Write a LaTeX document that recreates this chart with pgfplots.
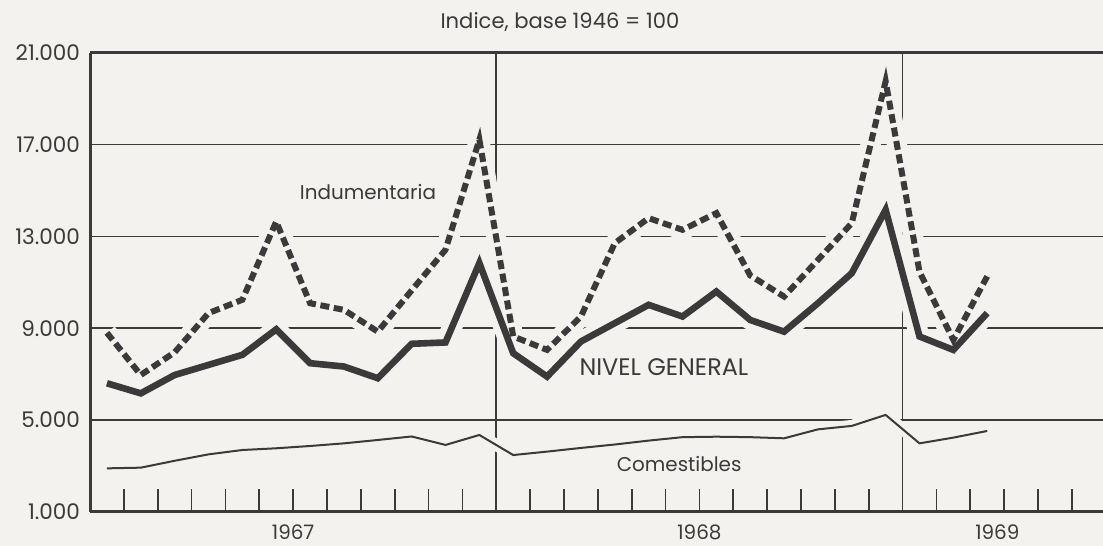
\documentclass[border=0pt]{standalone}
\usepackage{pgfplots}
\pgfplotsset{compat=1.18}
\usepackage{fontspec}
\setmainfont{Poppins}
\definecolor{paper}{HTML}{F4F2EF}
\definecolor{ink}{HTML}{3B3939}

% monthly values, x = month index (0 = Jan 1967), plotted mid-month
\pgfplotstableread{
x     general  ropa   comida
0.5   6600     8800   2890
1.5   6160     6960   2920
2.5   6960     7950   3220
3.5   7400     9660   3500
4.5   7840     10240  3690
5.5   8950     13650  3765
6.5   7475     10090  3865
7.5   7330     9800   3980
8.5   6820     8850   4127
9.5   8320     10650  4280
10.5  8380     12420  3910
11.5  11840    17220  4345
12.5  7910     8640   3470
13.5  6890     8055   3620
14.5  8420     9510   3780
15.5  9220     12710  3930
16.5  10020    13800  4100
17.5  9510     13290  4250
18.5  10600    14020  4270
19.5  9360     11300  4250
20.5  8850     10380  4200
21.5  10090    11980  4590
22.5  11400    13580  4740
23.5  14160    19770  5220
24.5  8640     11460  3980
25.5  8055     8490   4230
26.5  9660     11260  4520
}\datos

\begin{document}
\begin{tikzpicture}[font=\fontsize{10}{12}\selectfont]
\fill[paper] (-45bp,-17.15bp) rectangle (506.5bp,255.85bp);
\path[use as bounding box] (-45bp,-17.15bp) rectangle (506.5bp,255.85bp);
\begin{axis}[
  clip=false,
  scale only axis, width=506.5bp, height=229.35bp,
  xmin=0, xmax=29.92, ymin=1000, ymax=21000,
  axis x line=box, axis y line=left,
  every outer y axis line/.append style={-},
  every inner y axis line/.append style={-},
  axis line style={ink, line width=1.5bp, -},
  xtick={1,...,29}, xticklabels={}, xtick pos=bottom,
  tick align=inside, major tick length=11.5bp,
  xtick style={ink, line width=0.9bp},
  ytick={1000,5000,9000,13000,17000,21000}, ytick style={draw=none},
  scaled y ticks=false,
  yticklabel style={text=ink, xshift=-1.5bp, font=\fontsize{10.8}{12}\selectfont,
    /pgf/number format/fixed},
  /pgf/number format/.cd, 1000 sep={.}, assume math mode=true,
]
% horizontal rules and year dividers
\addplot[ink, line width=0.75bp] coordinates {(0,5000) (29.92,5000)};
\addplot[ink, line width=0.75bp] coordinates {(0,9000) (29.92,9000)};
\addplot[ink, line width=0.75bp] coordinates {(0,13000) (29.92,13000)};
\addplot[ink, line width=0.75bp] coordinates {(0,17000) (29.92,17000)};
\addplot[ink, line width=0.9bp] coordinates {(12,1000) (12,21000)};
\addplot[ink, line width=0.9bp] coordinates {(24,1000) (24,21000)};

% light gaps where the curves cross the rules
\addplot[paper, line width=6bp, line join=round] table[x=x, y=comida] {\datos};
\addplot[paper, line width=10bp, line join=round] table[x=x, y=ropa] {\datos};
\addplot[paper, line width=10bp, line join=round] table[x=x, y=general] {\datos};

\addplot[ink, line width=1bp, line join=round] table[x=x, y=comida] {\datos};
\addplot[ink, line width=3bp, dash pattern=on 4.5bp off 2.3bp] table[x=x, y=ropa] {\datos};
\addplot[ink, line width=3.3bp, line join=miter] table[x=x, y=general] {\datos};

\node[text=ink] at (axis cs:8.21,14957) {Indumentaria};
\node[text=ink, font=\fontsize{12}{14}\selectfont] at (axis cs:16.95,7310) {NIVEL GENERAL};
\node[text=ink] at (axis cs:17.4,3080) {Comestibles};

\node[text=ink, inner sep=0pt] at (axis cs:6,1000) [yshift=-10.2bp] {1967};
\node[text=ink, inner sep=0pt] at (axis cs:18,1000) [yshift=-10.2bp] {1968};
\node[text=ink, inner sep=0pt] at (axis cs:26.8,1000) [yshift=-10.2bp] {1969};
\node[text=ink, font=\fontsize{10.6}{12}\selectfont] at (axis cs:13.88,21000) [yshift=15.5bp] {Indice, base 1946 = 100};
\end{axis}
\end{tikzpicture}
\end{document}
